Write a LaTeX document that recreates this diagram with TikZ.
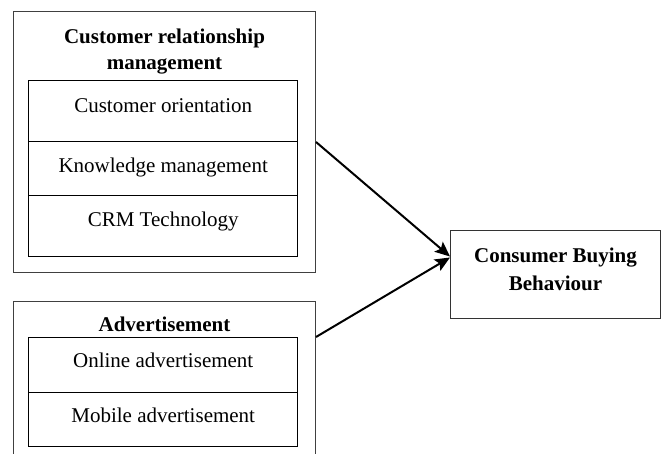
\documentclass[tikz,border=0pt]{standalone}
\usepackage{fontspec}
\setmainfont{Liberation Serif}
\usetikzlibrary{arrows.meta}
\begin{document}
\begin{tikzpicture}[x=1pt,y=-1pt,
  font=\fontsize{21}{26}\selectfont,
  outerbox/.style={draw=black!75, line width=1pt, inner sep=0pt, minimum width=302pt,
    align=center, font=\fontsize{21}{26}\selectfont\bfseries},
  rowbox/.style={draw=black, line width=1.4pt, inner sep=0pt, minimum width=269pt},
  resultbox/.style={draw=black!80, line width=1pt, inner sep=0pt, minimum width=210pt,
    align=center, font=\fontsize{21}{28}\selectfont\bfseries},
  link/.style={line width=2pt, -{Stealth[length=15pt,width=13pt,inset=3pt]}}]
\useasboundingbox (0,0) rectangle (662,454);

% customer relationship management block
\node[outerbox, anchor=north west, text height=58pt, text depth=203pt]
  (crm) at (13,11) {Customer relationship\\management};
\node[rowbox, anchor=north west, text height=32pt, text depth=29pt]
  (orient) at (28,80) {Customer orientation};
\node[rowbox, anchor=north west, text height=31pt, text depth=23pt]
  (know) at (28,141) {Knowledge management};
\node[rowbox, anchor=north west, text height=31pt, text depth=30pt]
  (tech) at (28,195) {CRM Technology};

% advertisement block
\node[outerbox, anchor=north west, text height=30pt, text depth=131pt]
  (adv) at (13,301) {Advertisement};
\node[rowbox, anchor=north west, text height=30pt, text depth=25pt]
  (online) at (28,337) {Online advertisement};
\node[rowbox, anchor=north west, text height=30pt, text depth=24pt]
  (mobile) at (28,392) {Mobile advertisement};

% outcome
\node[resultbox, anchor=north west, text height=60pt, text depth=28pt]
  (cbb) at (450,230) {Consumer Buying\\Behaviour};

% relationships
\draw[link] (crm.east) -- ([yshift=18pt]cbb.west);
\draw[link] ([yshift=-36pt]adv.north east) -- ([yshift=17pt]cbb.west);
\end{tikzpicture}
\end{document}
